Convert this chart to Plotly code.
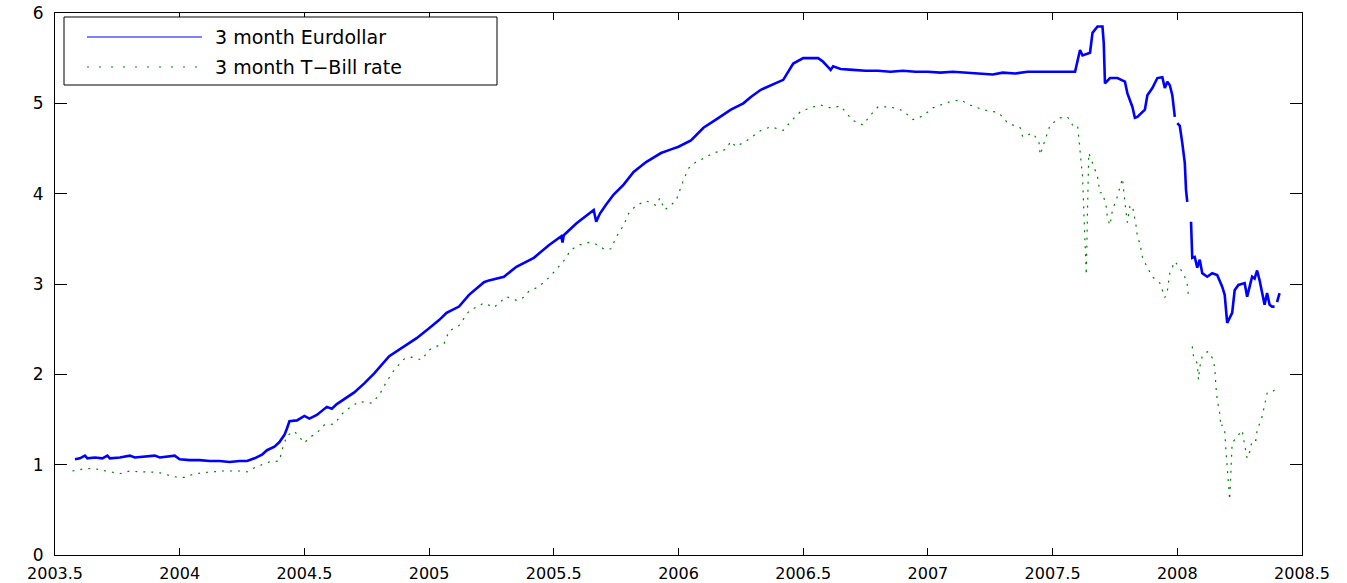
import plotly.graph_objects as go

# ---- data (decimal years, percent) ----
euro_x = [2003.58, 2003.60, 2003.62, 2003.63, 2003.66, 2003.69, 2003.71, 2003.72, 2003.76, 2003.80,
          2003.82, 2003.86, 2003.90, 2003.92, 2003.96, 2003.98, 2004.00, 2004.04, 2004.08, 2004.12,
          2004.16, 2004.20, 2004.24, 2004.27, 2004.30, 2004.33, 2004.35, 2004.38, 2004.40, 2004.42,
          2004.43, 2004.44, 2004.47, 2004.50, 2004.52, 2004.55, 2004.59, 2004.61, 2004.63, 2004.67,
          2004.70, 2004.74, 2004.78, 2004.84, 2004.89, 2004.95, 2005.00, 2005.04, 2005.07, 2005.12,
          2005.16, 2005.20, 2005.22, 2005.24, 2005.30, 2005.35, 2005.42, 2005.48, 2005.53, 2005.535,
          2005.54, 2005.59, 2005.66, 2005.67, 2005.685, 2005.71, 2005.74, 2005.78, 2005.82, 2005.87,
          2005.93, 2005.97, 2006.00, 2006.05, 2006.10, 2006.15, 2006.21, 2006.26, 2006.29, 2006.33,
          2006.39, 2006.42, 2006.46, 2006.50, 2006.56, 2006.58, 2006.60, 2006.61, 2006.62, 2006.65,
          2006.70, 2006.75, 2006.80, 2006.85, 2006.90, 2006.95, 2007.00, 2007.05, 2007.10, 2007.15,
          2007.20, 2007.26, 2007.30, 2007.35, 2007.40, 2007.45, 2007.50, 2007.55, 2007.59, 2007.61,
          2007.62, 2007.65, 2007.66, 2007.68, 2007.70, 2007.705, 2007.71, 2007.73, 2007.76, 2007.79,
          2007.80, 2007.82, 2007.83, 2007.84, 2007.86, 2007.87, 2007.88, 2007.90, 2007.92, 2007.94,
          2007.95, 2007.96, 2007.97, 2007.98, 2007.99, 2007.995, 2008.00, 2008.01, 2008.02, 2008.03,
          2008.035, 2008.04, 2008.05, 2008.055, 2008.06, 2008.07, 2008.08, 2008.09, 2008.10, 2008.12,
          2008.14, 2008.16, 2008.17, 2008.18, 2008.19, 2008.20, 2008.22, 2008.23, 2008.245, 2008.27,
          2008.28, 2008.29, 2008.30, 2008.31, 2008.32, 2008.33, 2008.34, 2008.35, 2008.36, 2008.37,
          2008.38, 2008.39, 2008.395, 2008.40, 2008.41]
euro_y = [1.06, 1.07, 1.10, 1.07, 1.08, 1.07, 1.10, 1.07, 1.08, 1.10,
          1.08, 1.09, 1.10, 1.08, 1.09, 1.10, 1.06, 1.05, 1.05, 1.04,
          1.04, 1.03, 1.04, 1.04, 1.07, 1.11, 1.16, 1.20, 1.25, 1.33,
          1.40, 1.48, 1.49, 1.54, 1.51, 1.55, 1.64, 1.62, 1.67, 1.75,
          1.80, 1.90, 2.01, 2.20, 2.29, 2.40, 2.51, 2.60, 2.68, 2.75,
          2.88, 2.97, 3.02, 3.04, 3.08, 3.19, 3.29, 3.43, 3.53, 3.46,
          3.54, 3.67, 3.82, 3.69, 3.78, 3.88, 3.99, 4.10, 4.24, 4.35,
          4.45, 4.49, 4.52, 4.59, 4.73, 4.82, 4.93, 5.00, 5.07, 5.15,
          5.22, 5.26, 5.44, 5.50, 5.50, 5.46, 5.40, 5.37, 5.41, 5.38,
          5.37, 5.36, 5.36, 5.35, 5.36, 5.35, 5.35, 5.34, 5.35, 5.34,
          5.33, 5.32, 5.34, 5.33, 5.35, 5.35, 5.35, 5.35, 5.35, 5.59,
          5.53, 5.56, 5.78, 5.85, 5.85, 5.67, 5.22, 5.28, 5.28, 5.24,
          5.11, 4.96, 4.84, 4.85, 4.91, 4.93, 5.09, 5.17, 5.28, 5.29,
          5.17, 5.24, 5.20, 5.09, 4.85, None, 4.78, 4.75, 4.56, 4.34,
          4.04, 3.91, None, 3.69, 3.29, 3.30, 3.18, 3.27, 3.12, 3.08,
          3.12, 3.10, 3.04, 2.97, 2.88, 2.57, 2.68, 2.93, 2.99, 3.01,
          2.86, 2.98, 3.08, 3.06, 3.15, 3.04, 2.90, 2.77, 2.90, 2.77,
          2.75, 2.75, None, 2.80, 2.90]

tbill_x = [2003.57, 2003.61, 2003.65, 2003.69, 2003.73, 2003.76, 2003.80, 2003.84, 2003.88, 2003.92,
           2003.96, 2003.99, 2004.02, 2004.05, 2004.09, 2004.13, 2004.17, 2004.21, 2004.24, 2004.27,
           2004.31, 2004.36, 2004.40, 2004.41, 2004.43, 2004.46, 2004.48, 2004.50, 2004.52, 2004.55,
           2004.58, 2004.62, 2004.64, 2004.66, 2004.72, 2004.77, 2004.80, 2004.83, 2004.86, 2004.90,
           2004.93, 2004.97, 2005.00, 2005.03, 2005.06, 2005.08, 2005.12, 2005.14, 2005.16, 2005.22,
           2005.26, 2005.31, 2005.35, 2005.37, 2005.40, 2005.44, 2005.48, 2005.51, 2005.55, 2005.565,
           2005.60, 2005.64, 2005.67, 2005.705, 2005.73, 2005.75, 2005.78, 2005.80, 2005.83, 2005.87,
           2005.91, 2005.925, 2005.945, 2005.99, 2006.01, 2006.02, 2006.04, 2006.07, 2006.10, 2006.14,
           2006.19, 2006.21, 2006.23, 2006.27, 2006.29, 2006.33, 2006.37, 2006.42, 2006.45, 2006.49,
           2006.54, 2006.57, 2006.61, 2006.65, 2006.68, 2006.70, 2006.74, 2006.77, 2006.80, 2006.85,
           2006.90, 2006.94, 2006.98, 2007.02, 2007.08, 2007.13, 2007.17, 2007.22, 2007.28, 2007.30,
           2007.32, 2007.37, 2007.38, 2007.42, 2007.445, 2007.45, 2007.49, 2007.53, 2007.56, 2007.58,
           2007.60, 2007.605, 2007.61, 2007.615, 2007.62, 2007.625, 2007.63, 2007.635, 2007.64, 2007.645,
           2007.66, 2007.68, 2007.69, 2007.70, 2007.715, 2007.72, 2007.73, 2007.74, 2007.76, 2007.775,
           2007.78, 2007.79, 2007.80, 2007.81, 2007.82, 2007.835, 2007.84, 2007.85, 2007.86, 2007.88,
           2007.90, 2007.93, 2007.95, 2007.96, 2007.97, 2007.99, 2008.01, 2008.03, 2008.04, 2008.045,
           2008.05, 2008.06, 2008.065, 2008.08, 2008.085, 2008.09, 2008.10, 2008.12, 2008.13, 2008.14,
           2008.15, 2008.155, 2008.16, 2008.17, 2008.175, 2008.18, 2008.19, 2008.195, 2008.20, 2008.205,
           2008.21, 2008.22, 2008.24, 2008.26, 2008.27, 2008.28, 2008.29, 2008.30, 2008.315, 2008.32,
           2008.34, 2008.35, 2008.36, 2008.38, 2008.40]
tbill_y = [0.93, 0.95, 0.96, 0.94, 0.92, 0.90, 0.93, 0.92, 0.92, 0.91,
           0.88, 0.86, 0.86, 0.89, 0.91, 0.92, 0.93, 0.93, 0.93, 0.92,
           0.98, 1.03, 1.04, 1.16, 1.32, 1.37, 1.31, 1.24, 1.30, 1.35,
           1.44, 1.45, 1.52, 1.59, 1.70, 1.68, 1.77, 1.92, 2.05, 2.17,
           2.19, 2.16, 2.27, 2.31, 2.34, 2.48, 2.54, 2.62, 2.70, 2.79,
           2.74, 2.86, 2.82, 2.83, 2.92, 2.97, 3.07, 3.16, 3.29, 3.37,
           3.43, 3.46, 3.44, 3.38, 3.39, 3.52, 3.65, 3.78, 3.87, 3.92,
           3.87, 3.95, 3.82, 3.92, 4.08, 4.15, 4.28, 4.35, 4.39, 4.45,
           4.49, 4.58, 4.52, 4.58, 4.62, 4.70, 4.74, 4.70, 4.80, 4.91,
           4.96, 4.98, 4.95, 4.97, 4.87, 4.81, 4.76, 4.87, 4.96, 4.96,
           4.92, 4.82, 4.86, 4.95, 5.01, 5.04, 4.98, 4.93, 4.90, 4.85,
           4.78, 4.73, 4.63, 4.67, 4.58, 4.43, 4.76, 4.84, 4.85, 4.76,
           4.76, 4.63, 4.48, 4.34, 4.19, 3.82, 3.45, 3.10, 3.82, 4.45,
           4.34, 4.19, 4.01, 4.01, 3.86, 3.73, 3.65, 3.82, 3.97, 4.12,
           4.17, 3.90, 3.68, 3.86, 3.87, 3.64, 3.52, 3.45, 3.30, 3.18,
           3.08, 3.01, 2.85, 2.92, 3.12, 3.25, 3.18, 3.08, 2.99, 2.86,
           None, 2.31, 2.20, 2.12, 1.94, 2.08, 2.20, 2.25, 2.24, 2.18,
           2.08, 1.86, 1.72, 1.57, 1.42, 1.44, 1.37, 1.16, 0.98, 0.80,
           0.61, 1.24, 1.31, 1.38, 1.22, 1.07, 1.14, 1.27, 1.27, 1.38,
           1.53, 1.66, 1.79, 1.80, 1.86]

series_names = ["3 month Eurdollar", "3 month T\u2212Bill rate"]
x_ticks = [2003.5, 2004, 2004.5, 2005, 2005.5, 2006, 2006.5, 2007, 2007.5, 2008, 2008.5]
x_tick_labels = ["2003.5", "2004", "2004.5", "2005", "2005.5", "2006", "2006.5",
                 "2007", "2007.5", "2008", "2008.5"]
y_ticks = [0, 1, 2, 3, 4, 5, 6]

BLUE = "#0000FF"
GREEN = "#008000"
FONT = "DejaVu Sans"

fig = go.Figure()
fig.add_trace(go.Scatter(x=euro_x, y=euro_y, mode="lines", name=series_names[0],
                         line=dict(color=BLUE, width=2.6), connectgaps=False,
                         showlegend=False))
fig.add_trace(go.Scatter(x=tbill_x, y=tbill_y, mode="lines", name=series_names[1],
                         line=dict(color=GREEN, width=1.2, dash="2px,6px"), connectgaps=False,
                         showlegend=False))

axis_common = dict(showgrid=False, zeroline=False, showline=True, linecolor="black",
                   linewidth=1, mirror="ticks", ticks="inside", tickcolor="black",
                   automargin=False)

fig.update_xaxes(range=[2003.5, 2008.5], tickvals=x_ticks, ticktext=x_tick_labels,
                 ticklen=7, ticklabelstandoff=4,
                 tickfont=dict(family=FONT, size=16, color="black"), **axis_common)
fig.update_yaxes(range=[0, 6], tickvals=y_ticks, ticktext=[str(v) for v in y_ticks],
                 ticklen=12, ticklabelstandoff=7,
                 tickfont=dict(family=FONT, size=17, color="black"), **axis_common)

# legend box drawn manually (MATLAB style)
W, H = 1247.0, 542.0
def px_x(p):
    return (p - 55) / W
def px_y(p):
    return (555 - p) / H

shapes = [
    dict(type="rect", xref="paper", yref="paper", x0=px_x(64), x1=px_x(497),
         y0=px_y(85), y1=px_y(17), line=dict(color="black", width=1), fillcolor="white"),
    dict(type="line", xref="paper", yref="paper", x0=px_x(87), x1=px_x(202),
         y0=px_y(37), y1=px_y(37), line=dict(color=BLUE, width=1.2)),
    dict(type="line", xref="paper", yref="paper", x0=px_x(87), x1=px_x(202),
         y0=px_y(67), y1=px_y(67), line=dict(color=GREEN, width=1.2, dash="2px,10px")),
]
annotations = [
    dict(xref="paper", yref="paper", x=px_x(213), y=px_y(37), text=series_names[0],
         showarrow=False, xanchor="left", yanchor="middle",
         font=dict(family=FONT, size=19, color="black")),
    dict(xref="paper", yref="paper", x=px_x(213), y=px_y(67), text=series_names[1],
         showarrow=False, xanchor="left", yanchor="middle",
         font=dict(family=FONT, size=19, color="black")),
]

fig.update_layout(width=1347, height=583, margin=dict(l=55, r=45, t=13, b=28),
                  paper_bgcolor="white", plot_bgcolor="white",
                  shapes=shapes, annotations=annotations, showlegend=False)

fig.write_html("out.html", config={"displayModeBar": False},
               post_script="document.body.style.margin='0';document.body.style.overflow='hidden';")
